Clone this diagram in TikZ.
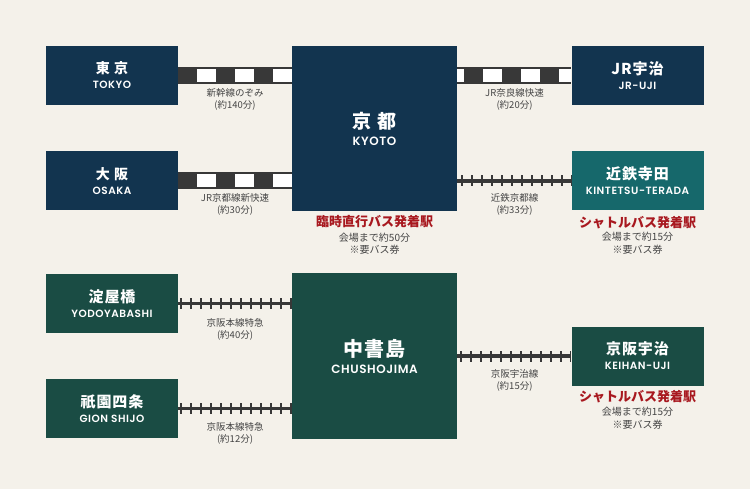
\documentclass[tikz,border=0pt]{standalone}
\usepackage{fontspec}
\setmainfont{Noto Sans CJK JP}
\newfontfamily\jpname[LetterSpace=6]{Noto Sans CJK JP}
\newfontfamily\jpwide[LetterSpace=30]{Noto Sans CJK JP}
\newfontfamily\enname[LetterSpace=5, BoldFont={* SemiBold}]{Poppins}
\usetikzlibrary{positioning}

\definecolor{papel}{HTML}{F4F1EA}
\definecolor{jrazul}{HTML}{12344F}
\definecolor{kintetsu}{HTML}{16686B}
\definecolor{keihan}{HTML}{1A4C44}
\definecolor{carril}{HTML}{383838}
\definecolor{rojo}{HTML}{A8181F}
\definecolor{gris}{HTML}{444444}

\tikzset{
  estacion/.style={fill=#1, text=white, minimum width=132pt, minimum height=59pt,
    inner sep=0pt, align=center, font=\bfseries\fontsize{10.5}{15}\selectfont},
  grande/.style={estacion=#1, minimum width=165pt, minimum height=165pt,
    font=\bfseries\fontsize{12}{17}\selectfont},
  jr/.style={draw=carril, line width=17pt},
  jrblanco/.style={draw=white, line width=13pt, dash pattern=on 19pt off 19pt},
  via/.style={draw=carril, line width=3.5pt},
  traviesas/.style={draw=carril, line width=11pt, dash pattern=on 2pt off 8pt},
  tramo/.style={text=gris, align=center, anchor=north, inner sep=0pt,
    font=\fontsize{9.5}{12.5}\selectfont},
  bus/.style={text=rojo, inner sep=0pt, font=\bfseries\fontsize{13}{13}\selectfont},
  nota/.style={text=gris, align=center, inner sep=0pt, font=\fontsize{10}{12.5}\selectfont},
}

\begin{document}
\begin{tikzpicture}[x=1pt,y=-1pt]
  % fondo
  \fill[papel] (0,0) rectangle (750,489);

  % estaciones JR / Kintetsu
  \node[estacion=jrazul] (tokyo) at (112,75.5) {{\jpwide\fontsize{14}{14}\selectfont 東京}\\{\enname TOKYO}};
  \node[estacion=jrazul] (osaka) at (112,181) {{\jpwide\fontsize{14}{14}\selectfont 大阪}\\{\enname OSAKA}};
  \node[grande=jrazul] (kyoto) at (374.5,128.5) {{\jpwide\fontsize{19}{19}\selectfont 京都}\\{\enname KYOTO}};
  \node[estacion=jrazul] (jruji) at (637.5,75.5) {{\jpname\fontsize{15}{15}\selectfont JR宇治}\\{\enname JR-UJI}};
  \node[estacion=kintetsu] (terada) at (637.5,181) {{\jpname\fontsize{15}{15}\selectfont 近鉄寺田}\\{\enname KINTETSU-TERADA}};

  % estaciones Keihan
  \node[estacion=keihan] (yodoyabashi) at (112,303.5) {{\jpname\fontsize{15}{15}\selectfont 淀屋橋}\\{\enname YODOYABASHI}};
  \node[estacion=keihan] (gion) at (112,408.5) {{\jpname\fontsize{15}{15}\selectfont 祇園四条}\\{\enname GION SHIJO}};
  \node[grande=keihan] (chushojima) at (374.5,356) {{\jpname\fontsize{20}{20}\selectfont 中書島}\\{\enname CHUSHOJIMA}};
  \node[estacion=keihan] (keihanuji) at (637.5,356) {{\jpname\fontsize{15}{15}\selectfont 京阪宇治}\\{\enname KEIHAN-UJI}};

  % vias JR
  \draw[jr] (tokyo.east) -- (tokyo.east -| kyoto.west);
  \draw[jrblanco, dash phase=19pt] (tokyo.east) -- (tokyo.east -| kyoto.west);
  \draw[jr] (osaka.east) -- (osaka.east -| kyoto.west);
  \draw[jrblanco, dash phase=19pt] (osaka.east) -- (osaka.east -| kyoto.west);
  \draw[jr] (jruji.west -| kyoto.east) -- (jruji.west);
  \draw[jrblanco, dash phase=12pt] (jruji.west -| kyoto.east) -- (jruji.west);

  % vias privadas
  \draw[via] (terada.west -| kyoto.east) -- (terada.west);
  \draw[traviesas, dash phase=6pt] (terada.west -| kyoto.east) -- (terada.west);
  \draw[via] (yodoyabashi.east) -- (yodoyabashi.east -| chushojima.west);
  \draw[traviesas, dash phase=8pt] (yodoyabashi.east) -- (yodoyabashi.east -| chushojima.west);
  \draw[via] (gion.east) -- (gion.east -| chushojima.west);
  \draw[traviesas, dash phase=8pt] (gion.east) -- (gion.east -| chushojima.west);
  \draw[via] (keihanuji.west -| chushojima.east) -- (keihanuji.west);
  \draw[traviesas, dash phase=7pt] (keihanuji.west -| chushojima.east) -- (keihanuji.west);

  % tiempos de trayecto
  \node[tramo] (nozomi) at (235,88) {新幹線のぞみ\\(約140分)};
  \node[tramo] (shinkaisoku) at (235,193) {JR京都線新快速\\(約30分)};
  \node[tramo] (nara) at (514.5,88) {JR奈良線快速\\(約20分)};
  \node[tramo] (kintetsusen) at (514.5,193) {近鉄京都線\\(約33分)};
  \node[tramo] (honsen1) at (235,318) {京阪本線特急\\(約40分)};
  \node[tramo] (honsen2) at (235,422) {京阪本線特急\\(約12分)};
  \node[tramo] (ujisen) at (514.5,369) {京阪宇治線\\(約15分)};

  % buses
  \node[bus, below=4pt of kyoto] (bus1) {臨時直行バス発着駅};
  \node[nota, below=4.5pt of bus1] (nota1) {会場まで約50分\\※要バス券};
  \node[bus, below=5pt of terada] (bus2) {シャトルバス発着駅};
  \node[nota, below=3.5pt of bus2] (nota2) {会場まで約15分\\※要バス券};
  \node[bus, below=4.5pt of keihanuji] (bus3) {シャトルバス発着駅};
  \node[nota, below=4pt of bus3] (nota3) {会場まで約15分\\※要バス券};
\end{tikzpicture}
\end{document}
